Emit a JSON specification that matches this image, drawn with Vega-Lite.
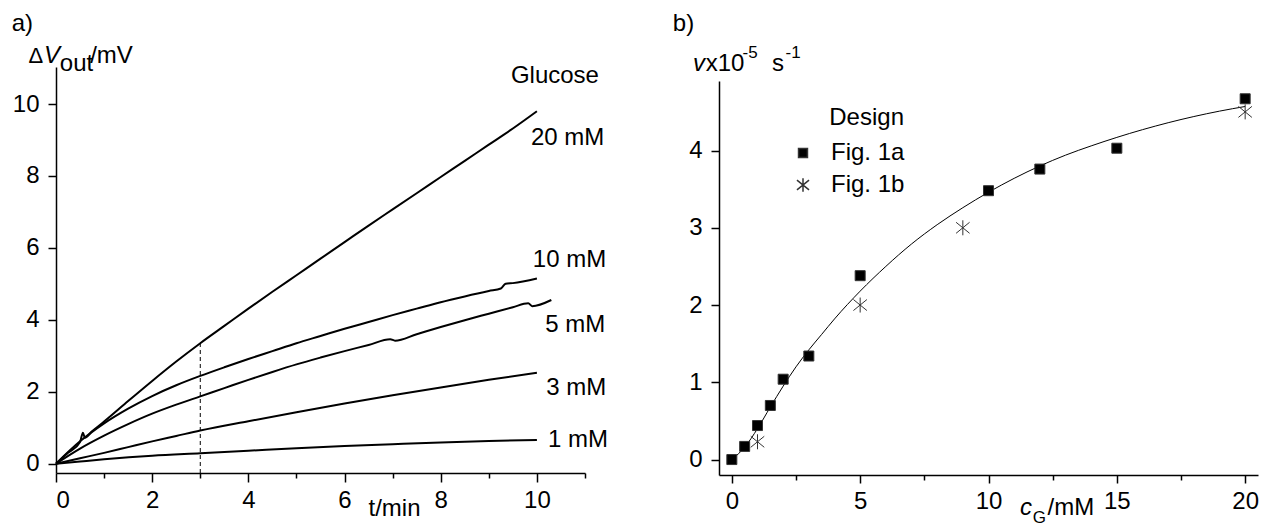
{
  "$schema": "https://vega.github.io/schema/vega-lite/v6.json",
  "padding": {"left": 11, "top": 12, "right": 5, "bottom": 0},
  "spacing": 134,
  "bounds": "flush",
  "config": {
    "font": "Liberation Sans",
    "view": {"stroke": null},
    "axis": {"domainColor": "black", "domainWidth": 1.5, "tickColor": "black", "tickWidth": 1.5, "labelColor": "black", "labelFont": "Liberation Sans", "labelFontSize": 24, "grid": false, "title": null},
    "legend": {"titleFont": "Liberation Sans", "titleFontSize": 24, "titleFontWeight": "normal", "titleColor": "black", "labelFont": "Liberation Sans", "labelFontSize": 24, "labelColor": "black"},
    "text": {"font": "Liberation Sans", "fontSize": 24, "color": "black", "baseline": "alphabetic"}
  },
  "datasets": {
    "curves": [
      {"g": "20 mM", "t": 0, "v": 0}, {"g": "20 mM", "t": 0.25, "v": 0.3}, {"g": "20 mM", "t": 0.5, "v": 0.6}, {"g": "20 mM", "t": 0.56, "v": 0.86}, {"g": "20 mM", "t": 0.6, "v": 0.72}, {"g": "20 mM", "t": 0.75, "v": 0.9}, {"g": "20 mM", "t": 1, "v": 1.17}, {"g": "20 mM", "t": 1.5, "v": 1.74}, {"g": "20 mM", "t": 2, "v": 2.3}, {"g": "20 mM", "t": 2.5, "v": 2.84}, {"g": "20 mM", "t": 3, "v": 3.35}, {"g": "20 mM", "t": 3.5, "v": 3.83}, {"g": "20 mM", "t": 4, "v": 4.31}, {"g": "20 mM", "t": 4.5, "v": 4.78}, {"g": "20 mM", "t": 5, "v": 5.24}, {"g": "20 mM", "t": 5.5, "v": 5.7}, {"g": "20 mM", "t": 6, "v": 6.16}, {"g": "20 mM", "t": 6.5, "v": 6.62}, {"g": "20 mM", "t": 7, "v": 7.07}, {"g": "20 mM", "t": 7.5, "v": 7.52}, {"g": "20 mM", "t": 8, "v": 7.97}, {"g": "20 mM", "t": 8.5, "v": 8.42}, {"g": "20 mM", "t": 9, "v": 8.87}, {"g": "20 mM", "t": 9.5, "v": 9.32}, {"g": "20 mM", "t": 10, "v": 9.8},
      {"g": "10 mM", "t": 0, "v": 0}, {"g": "10 mM", "t": 0.5, "v": 0.62}, {"g": "10 mM", "t": 1, "v": 1.12}, {"g": "10 mM", "t": 1.5, "v": 1.53}, {"g": "10 mM", "t": 2, "v": 1.88}, {"g": "10 mM", "t": 2.5, "v": 2.18}, {"g": "10 mM", "t": 3, "v": 2.44}, {"g": "10 mM", "t": 3.5, "v": 2.68}, {"g": "10 mM", "t": 4, "v": 2.91}, {"g": "10 mM", "t": 4.5, "v": 3.13}, {"g": "10 mM", "t": 5, "v": 3.35}, {"g": "10 mM", "t": 5.5, "v": 3.55}, {"g": "10 mM", "t": 6, "v": 3.75}, {"g": "10 mM", "t": 6.5, "v": 3.94}, {"g": "10 mM", "t": 7, "v": 4.13}, {"g": "10 mM", "t": 7.5, "v": 4.31}, {"g": "10 mM", "t": 8, "v": 4.49}, {"g": "10 mM", "t": 8.5, "v": 4.65}, {"g": "10 mM", "t": 9, "v": 4.8}, {"g": "10 mM", "t": 9.25, "v": 4.87}, {"g": "10 mM", "t": 9.35, "v": 5.0}, {"g": "10 mM", "t": 9.5, "v": 5.02}, {"g": "10 mM", "t": 10, "v": 5.15},
      {"g": "5 mM", "t": 0, "v": 0}, {"g": "5 mM", "t": 0.5, "v": 0.42}, {"g": "5 mM", "t": 1, "v": 0.78}, {"g": "5 mM", "t": 1.5, "v": 1.1}, {"g": "5 mM", "t": 2, "v": 1.39}, {"g": "5 mM", "t": 2.5, "v": 1.64}, {"g": "5 mM", "t": 3, "v": 1.87}, {"g": "5 mM", "t": 3.5, "v": 2.1}, {"g": "5 mM", "t": 4, "v": 2.33}, {"g": "5 mM", "t": 4.5, "v": 2.55}, {"g": "5 mM", "t": 5, "v": 2.76}, {"g": "5 mM", "t": 5.5, "v": 2.95}, {"g": "5 mM", "t": 6, "v": 3.13}, {"g": "5 mM", "t": 6.5, "v": 3.3}, {"g": "5 mM", "t": 6.95, "v": 3.46}, {"g": "5 mM", "t": 7.05, "v": 3.42}, {"g": "5 mM", "t": 7.5, "v": 3.6}, {"g": "5 mM", "t": 8, "v": 3.8}, {"g": "5 mM", "t": 8.5, "v": 3.99}, {"g": "5 mM", "t": 9, "v": 4.17}, {"g": "5 mM", "t": 9.5, "v": 4.35}, {"g": "5 mM", "t": 9.82, "v": 4.46}, {"g": "5 mM", "t": 9.9, "v": 4.38}, {"g": "5 mM", "t": 10.3, "v": 4.55},
      {"g": "3 mM", "t": 0, "v": 0}, {"g": "3 mM", "t": 0.5, "v": 0.15}, {"g": "3 mM", "t": 1, "v": 0.3}, {"g": "3 mM", "t": 1.5, "v": 0.46}, {"g": "3 mM", "t": 2, "v": 0.62}, {"g": "3 mM", "t": 2.5, "v": 0.77}, {"g": "3 mM", "t": 3, "v": 0.92}, {"g": "3 mM", "t": 4, "v": 1.18}, {"g": "3 mM", "t": 5, "v": 1.43}, {"g": "3 mM", "t": 6, "v": 1.67}, {"g": "3 mM", "t": 7, "v": 1.9}, {"g": "3 mM", "t": 8, "v": 2.12}, {"g": "3 mM", "t": 9, "v": 2.33}, {"g": "3 mM", "t": 10, "v": 2.53},
      {"g": "1 mM", "t": 0, "v": 0}, {"g": "1 mM", "t": 0.5, "v": 0.06}, {"g": "1 mM", "t": 1, "v": 0.12}, {"g": "1 mM", "t": 2, "v": 0.22}, {"g": "1 mM", "t": 3, "v": 0.29}, {"g": "1 mM", "t": 4, "v": 0.36}, {"g": "1 mM", "t": 5, "v": 0.43}, {"g": "1 mM", "t": 6, "v": 0.49}, {"g": "1 mM", "t": 7, "v": 0.54}, {"g": "1 mM", "t": 8, "v": 0.59}, {"g": "1 mM", "t": 9, "v": 0.63}, {"g": "1 mM", "t": 10, "v": 0.66}
    ],
    "points": [
      {"design": "Fig. 1a", "c": 0, "v": 0}, {"design": "Fig. 1a", "c": 0.5, "v": 0.17}, {"design": "Fig. 1a", "c": 1, "v": 0.44}, {"design": "Fig. 1a", "c": 1.5, "v": 0.7}, {"design": "Fig. 1a", "c": 2, "v": 1.04}, {"design": "Fig. 1a", "c": 3, "v": 1.34}, {"design": "Fig. 1a", "c": 5, "v": 2.38}, {"design": "Fig. 1a", "c": 10, "v": 3.48}, {"design": "Fig. 1a", "c": 12, "v": 3.76}, {"design": "Fig. 1a", "c": 15, "v": 4.03}, {"design": "Fig. 1a", "c": 20, "v": 4.67},
      {"design": "Fig. 1b", "c": 1, "v": 0.23}, {"design": "Fig. 1b", "c": 5, "v": 2.0}, {"design": "Fig. 1b", "c": 9, "v": 3.0}, {"design": "Fig. 1b", "c": 20, "v": 4.5}
    ],
    "fit": [
      {"c": 0, "v": 0}, {"c": 0.5, "v": 0.16}, {"c": 1, "v": 0.4}, {"c": 1.5, "v": 0.68}, {"c": 2, "v": 0.95}, {"c": 2.5, "v": 1.2}, {"c": 3, "v": 1.42}, {"c": 3.5, "v": 1.62}, {"c": 4, "v": 1.82}, {"c": 5, "v": 2.18}, {"c": 6, "v": 2.5}, {"c": 7, "v": 2.79}, {"c": 8, "v": 3.04}, {"c": 9, "v": 3.26}, {"c": 10, "v": 3.46}, {"c": 11, "v": 3.64}, {"c": 12, "v": 3.8}, {"c": 13, "v": 3.94}, {"c": 14, "v": 4.06}, {"c": 15, "v": 4.17}, {"c": 16, "v": 4.27}, {"c": 17, "v": 4.36}, {"c": 18, "v": 4.44}, {"c": 19, "v": 4.51}, {"c": 20, "v": 4.57}
    ]
  },
  "hconcat": [
    {
      "width": 529,
      "height": 406,
      "layer": [
        {
          "data": {"name": "curves"},
          "mark": {"type": "line", "color": "black", "strokeWidth": 2, "interpolate": "monotone"},
          "encoding": {
            "x": {"field": "t", "type": "quantitative", "scale": {"domain": [0, 11], "nice": false, "zero": false},
                  "axis": {"values": [0, 1, 2, 3, 4, 5, 6, 7, 8, 9, 10, 11], "format": "d", "labelExpr": "datum.value % 2 === 0 ? datum.label : ''", "tickSize": {"condition": {"test": "datum.value % 2 !== 0", "value": 5}, "value": 9}, "labelPadding": 6}},
            "y": {"field": "v", "type": "quantitative", "scale": {"domain": [-0.26, 11.03], "nice": false, "zero": false},
                  "axis": {"values": [0, 1, 2, 3, 4, 5, 6, 7, 8, 9, 10, 11], "format": "d", "labelExpr": "datum.value % 2 === 0 ? datum.label : ''", "tickSize": {"condition": {"test": "datum.value % 2 !== 0", "value": 5}, "value": 8}, "labelPadding": 9}},
            "detail": {"field": "g", "type": "nominal"}
          }
        },
        {
          "data": {"values": [{}]},
          "mark": {"type": "rule", "color": "black", "strokeWidth": 1, "strokeDash": [4, 3]},
          "encoding": {"x": {"datum": 3}, "y": {"datum": -0.26}, "y2": {"datum": 3.35}}
        },
        {"data": {"values": [{}]}, "mark": {"type": "text", "text": "a)", "align": "left"}, "encoding": {"x": {"datum": -0.92}, "y": {"datum": 12.03}}},
        {"data": {"values": [{}]}, "mark": {"type": "text", "text": "Δ", "align": "left", "fontSize": 22}, "encoding": {"x": {"datum": -0.57}, "y": {"datum": 11.13}}},
        {"data": {"values": [{}]}, "mark": {"type": "text", "text": "V", "align": "left", "fontStyle": "italic"}, "encoding": {"x": {"datum": -0.25}, "y": {"datum": 11.13}}},
        {"data": {"values": [{}]}, "mark": {"type": "text", "text": "out", "align": "left"}, "encoding": {"x": {"datum": 0.08}, "y": {"datum": 10.905}}},
        {"data": {"values": [{}]}, "mark": {"type": "text", "text": "/mV", "align": "left"}, "encoding": {"x": {"datum": 0.71}, "y": {"datum": 11.13}}},
        {"data": {"values": [{}]}, "mark": {"type": "text", "text": "t/min", "align": "left"}, "encoding": {"x": {"datum": 6.498}, "y": {"datum": -1.457}}},
        {"data": {"values": [{}]}, "mark": {"type": "text", "text": "Glucose", "align": "right"}, "encoding": {"x": {"datum": 11.29}, "y": {"datum": 10.576}}},
        {"data": {"values": [{}]}, "mark": {"type": "text", "text": "20 mM", "align": "right"}, "encoding": {"x": {"datum": 11.4}, "y": {"datum": 8.86}}},
        {"data": {"values": [{}]}, "mark": {"type": "text", "text": "10 mM", "align": "right"}, "encoding": {"x": {"datum": 11.44}, "y": {"datum": 5.475}}},
        {"data": {"values": [{}]}, "mark": {"type": "text", "text": "5 mM", "align": "right"}, "encoding": {"x": {"datum": 11.42}, "y": {"datum": 3.668}}},
        {"data": {"values": [{}]}, "mark": {"type": "text", "text": "3 mM", "align": "right"}, "encoding": {"x": {"datum": 11.44}, "y": {"datum": 1.908}}},
        {"data": {"values": [{}]}, "mark": {"type": "text", "text": "1 mM", "align": "right"}, "encoding": {"x": {"datum": 11.48}, "y": {"datum": 0.47}}}
      ]
    },
    {
      "width": 539,
      "height": 408,
      "layer": [
        {
          "data": {"name": "fit"},
          "mark": {"type": "line", "color": "black", "strokeWidth": 1, "interpolate": "monotone"},
          "encoding": {
            "x": {"field": "c", "type": "quantitative", "scale": {"domain": [-0.5, 20.5], "nice": false, "zero": false},
                  "axis": {"values": [0, 2.5, 5, 7.5, 10, 12.5, 15, 17.5, 20], "format": "d", "labelExpr": "datum.value % 5 === 0 ? datum.label : ''", "tickSize": {"condition": {"test": "datum.value % 5 !== 0", "value": 5}, "value": 8}, "labelPadding": 6}},
            "y": {"field": "v", "type": "quantitative", "scale": {"domain": [-0.2, 4.9], "nice": false, "zero": false, "range": [408, 14]},
                  "axis": {"values": [0, 0.5, 1, 1.5, 2, 2.5, 3, 3.5, 4, 4.5], "format": "d", "labelExpr": "datum.value % 1 === 0 ? datum.label : ''", "tickSize": {"condition": {"test": "datum.value % 1 !== 0", "value": 5}, "value": 8}, "labelPadding": 9}}
          }
        },
        {
          "data": {"name": "points"},
          "mark": {"type": "point", "filled": true, "fill": "black", "stroke": "#333333", "strokeWidth": 1, "opacity": 1, "size": 100},
          "encoding": {
            "x": {"field": "c", "type": "quantitative"},
            "y": {"field": "v", "type": "quantitative"},
            "shape": {"field": "design", "type": "nominal",
                      "scale": {"domain": ["Fig. 1a", "Fig. 1b"], "range": ["square", "M0,-1.5L0,1.5M-1.35,-1.1L1.35,1.1M-1.35,1.1L1.35,-1.1"]},
                      "legend": {"title": "Design", "orient": "none", "legendX": 735, "legendY": 39, "titleAnchor": "end", "titlePadding": 11, "rowPadding": 8, "labelOffset": 16, "symbolSize": 80,
                                 "encode": {"symbols": {"update": {"fill": {"value": "black"}, "stroke": {"value": "#333333"}, "strokeWidth": {"value": 1}, "opacity": {"value": 1}}}}}}
          }
        },
        {"data": {"values": [{}]}, "mark": {"type": "text", "text": "b)", "align": "left"}, "encoding": {"x": {"datum": -2.3}, "y": {"datum": 5.547}}},
        {"data": {"values": [{}]}, "mark": {"type": "text", "text": "v", "align": "left", "fontStyle": "italic"}, "encoding": {"x": {"datum": -1.51}, "y": {"datum": 5.034}}},
        {"data": {"values": [{}]}, "mark": {"type": "text", "text": "x10", "align": "left"}, "encoding": {"x": {"datum": -1.02}, "y": {"datum": 5.034}}},
        {"data": {"values": [{}]}, "mark": {"type": "text", "text": "-5", "align": "left", "fontSize": 17}, "encoding": {"x": {"datum": 0.42}, "y": {"datum": 5.194}}},
        {"data": {"values": [{}]}, "mark": {"type": "text", "text": "s", "align": "left"}, "encoding": {"x": {"datum": 1.566}, "y": {"datum": 5.034}}},
        {"data": {"values": [{}]}, "mark": {"type": "text", "text": "-1", "align": "left", "fontSize": 17}, "encoding": {"x": {"datum": 2.09}, "y": {"datum": 5.194}}},
        {"data": {"values": [{}]}, "mark": {"type": "text", "text": "c", "align": "left", "fontStyle": "italic"}, "encoding": {"x": {"datum": 11.23}, "y": {"datum": -0.718}}},
        {"data": {"values": [{}]}, "mark": {"type": "text", "text": "G", "align": "left", "fontSize": 17}, "encoding": {"x": {"datum": 11.72}, "y": {"datum": -0.822}}},
        {"data": {"values": [{}]}, "mark": {"type": "text", "text": "/mM", "align": "left"}, "encoding": {"x": {"datum": 12.3}, "y": {"datum": -0.718}}}
      ]
    }
  ]
}
